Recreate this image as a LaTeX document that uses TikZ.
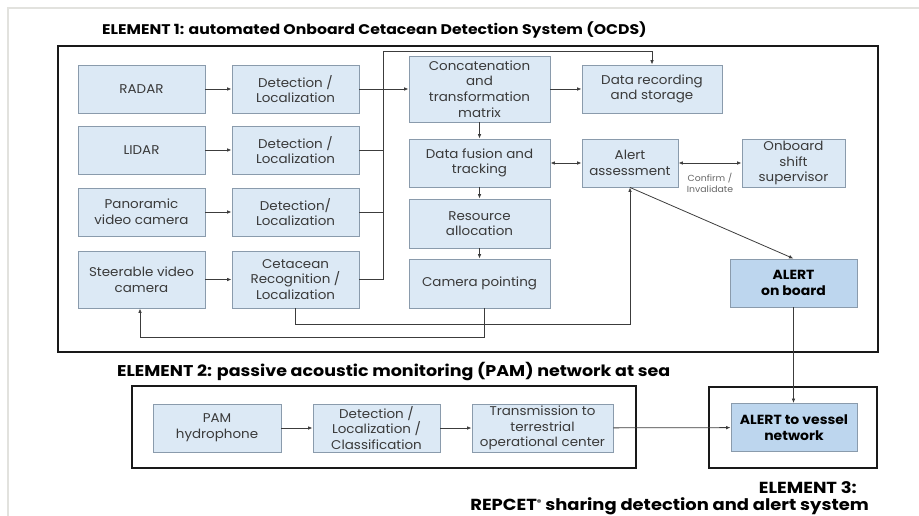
\documentclass[tikz,border=0pt]{standalone}
\usepackage{fontspec}
\setmainfont{Poppins}[FakeStretch=1.06]
\newfontfamily\titlefont{Poppins}[FakeStretch=1.12]
\usetikzlibrary{arrows.meta}
\definecolor{boxfill}{HTML}{DCE9F5}
\definecolor{boxline}{HTML}{8A9BAC}
\definecolor{alertfill}{HTML}{BDD6EE}
\definecolor{txt}{HTML}{3A3A3A}
\definecolor{conn}{HTML}{3C3C3C}
\definecolor{frame}{HTML}{E2E2DE}
\begin{document}
\begin{tikzpicture}[x=1pt,y=-1pt,
  bx/.style={draw=boxline,line width=0.9pt,fill=boxfill,inner sep=1pt,align=center,
    text=txt,font=\fontsize{12.7}{15.6}\selectfont},
  alertbox/.style={bx,fill=alertfill,text=black,font=\fontsize{13.2}{15.6}\selectfont\bfseries},
  element/.style={draw=black!90,line width=2.2pt},
  conn/.style={draw=conn,line width=0.8pt},
  arr/.style={conn,-{Latex[length=4.5pt,width=3.6pt]}},
  darr/.style={conn,{Latex[length=4.5pt,width=3.6pt]}-{Latex[length=4.5pt,width=3.6pt]}},
  ttl/.style={font=\titlefont\fontsize{14}{16}\selectfont\bfseries,text=black,inner sep=0pt},
  ttlb/.style={font=\titlefont\fontsize{15.6}{18}\selectfont\bfseries,text=black,inner sep=0pt},
  ttlc/.style={font=\titlefont\fontsize{16}{18}\selectfont\bfseries,text=black,inner sep=0pt}]
\useasboundingbox (0,0) rectangle (919,516);
\draw[frame,line width=1.2pt] (8,516) -- (8,8) -- (919,8);

% element frames
\draw[element] (58,46) rectangle (878,352);
\draw[element] (132,386) rectangle (636,468);
\draw[element] (709,387) rectangle (877,468);

% titles
\node[ttl,anchor=west] (t1) at (102,30) {ELEMENT 1: automated Onboard Cetacean Detection System (OCDS)};
\node[ttlb,anchor=west] (t2) at (117,372) {ELEMENT 2: passive acoustic monitoring (PAM) network at sea};
\node[ttlc,anchor=east] (t3a) at (857,488) {ELEMENT 3:};
\node[ttlc,anchor=east] (t3b) at (869,506) {REPCET\raisebox{0.55ex}{\fontsize{8}{8}\selectfont ®} sharing detection and alert system};

% element 1 nodes
\node[bx,minimum width=127pt,minimum height=48pt] (radar) at (141.5,89) {RADAR};
\node[bx,minimum width=127pt,minimum height=48pt] (det1) at (295.5,89) {Detection /\\Localization};
\node[bx,minimum width=127pt,minimum height=48pt] (lidar) at (141.5,150) {LIDAR};
\node[bx,minimum width=127pt,minimum height=48pt] (det2) at (295.5,150) {Detection /\\Localization};
\node[bx,minimum width=127pt,minimum height=48pt] (pano) at (141.5,212) {Panoramic\\video camera};
\node[bx,minimum width=127pt,minimum height=48pt] (det3) at (295.5,212) {Detection/\\Localization};
\node[bx,minimum width=127pt,minimum height=57pt] (steer) at (141.5,279.5) {Steerable video\\camera};
\node[bx,minimum width=127pt,minimum height=57pt] (cet) at (295.5,279.5) {Cetacean\\Recognition /\\Localization};

\node[bx,minimum width=141pt,minimum height=66pt] (concat) at (479.5,89) {Concatenation\\and\\transformation\\matrix};
\node[bx,minimum width=140pt,minimum height=48pt] (rec) at (652,89) {Data recording\\and storage};
\node[bx,minimum width=141pt,minimum height=48pt] (fusion) at (479.5,163) {Data fusion and\\tracking};
\node[bx,minimum width=96pt,minimum height=48pt] (alert) at (630,163) {Alert\\assessment};
\node[bx,minimum width=103pt,minimum height=48pt] (shift) at (793.5,163) {Onboard\\shift\\supervisor};
\node[bx,minimum width=141pt,minimum height=49pt] (res) at (479.5,223.5) {Resource\\allocation};
\node[bx,minimum width=141pt,minimum height=49pt] (cam) at (479.5,283.5) {Camera pointing};
\node[alertbox,minimum width=127pt,minimum height=48pt] (aob) at (793.5,283) {ALERT\\on board};

% element 2 / 3 nodes
\node[bx,minimum width=128pt,minimum height=48pt] (pam) at (217,428) {PAM\\hydrophone};
\node[bx,minimum width=127pt,minimum height=48pt] (dlc) at (376.5,428) {Detection /\\Localization /\\Classification};
\node[bx,minimum width=141pt,minimum height=48pt] (trans) at (542.5,428) {Transmission to\\terrestrial\\operational center};
\node[alertbox,minimum width=126pt,minimum height=48pt] (av) at (794,427.5) {ALERT to vessel\\network};

% bus coordinates
\coordinate (busTop) at (383,51);
\coordinate (busBot) at (383,279.5);
\coordinate (recTop) at (652,51);
\coordinate (cetLow) at (295.5,324);
\coordinate (alertLow) at (630,324);
\coordinate (camLow) at (484,337);
\coordinate (steerLow) at (140,337);

% connectors element 1
\draw[arr] (radar) -- (det1);
\draw[arr] (lidar) -- (det2);
\draw[arr] (pano) -- (det3);
\draw[arr] (steer) -- (cet);
\draw[arr] (det1) -- (concat);
\draw[conn] (det2.east) -- (det2.east -| busTop);
\draw[conn] (det3.east) -- (det3.east -| busTop);
\draw[conn] (cet.east) -- (busBot);
\draw[arr] (busBot) -- (busTop) -- (recTop) -- (rec.north);
\draw[arr] (concat) -- (rec);
\draw[arr] (concat.south) -- (fusion.north);
\draw[arr] (fusion.south) -- (res.north);
\draw[arr] (res.south) -- (cam.north);
\draw[darr] (fusion) -- (alert);
\draw[darr] (alert) -- node[below=6pt,font=\fontsize{8.8}{11}\selectfont,text=black!60,align=center] (ci) {Confirm /\\Invalidate} (shift);
\draw[arr] (alert.south) -- (aob.north);
\draw[arr] (cet.south) -- (cetLow) -- (alertLow) -- (alert.south);
\draw[arr] (cam.south -| camLow) -- (camLow) -- (steerLow) -- (steer.south -| steerLow);
\draw[arr] (aob.south) -- (aob.south |- av.north);

% connectors element 2
\draw[arr] (pam) -- (dlc);
\draw[arr] (dlc) -- (trans);
\draw[arr] (trans) -- (av);
\end{tikzpicture}
\end{document}
